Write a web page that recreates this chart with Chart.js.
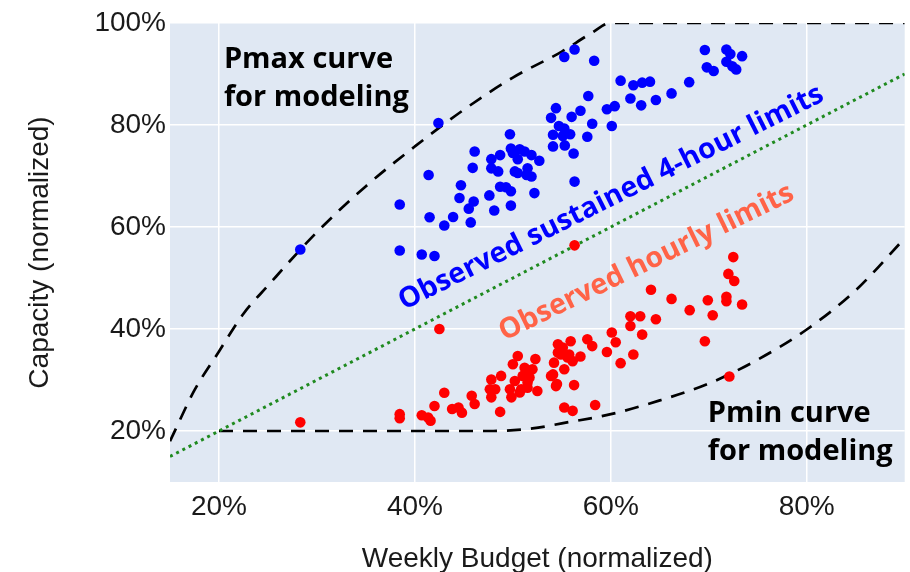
<!DOCTYPE html>
<html>
<head>
<meta charset="utf-8">
<script src="https://cdn.jsdelivr.net/npm/chart.js@4.4.1/dist/chart.umd.min.js"></script>
<style>
  html, body { margin: 0; padding: 0; background: #fff; }
  #grafico { display: block; }
</style>
</head>
<body>
<canvas id="grafico" width="910" height="572"></canvas>
<script>
// eixos (valores em %)
const xTicks = [20, 40, 60, 80];
const yTicks = [20, 40, 60, 80, 100];

// limites sustentados de 4 horas (azul)
const sustainedBudget = [28.3, 42.4, 41.4, 38.45, 38.45, 40.7, 42.0, 41.5, 43.0, 43.9, 44.7, 44.55, 45.5, 46.0, 45.7, 45.9, 46.1,
  47.6, 48.1, 47.8, 47.8, 48.7, 48.5, 48.7, 49.3, 49.8, 49.8, 49.7, 49.8, 50.0, 50.2, 50.5, 50.7, 50.5, 51.4, 51.2, 51.5, 51.9,
  52.2, 52.7, 51.9, 53.9, 54.4, 54.7, 55.25, 54.1, 55.85, 55.1, 54.1, 55.3, 56.2, 56.3, 56.0, 56.9, 57.7, 58.1, 57.6, 55.25,
  56.3, 58.3, 59.6, 60.4, 60.1, 61.0, 62.3, 63.2, 64.0, 62.0, 63.1, 64.6, 66.2, 68.0, 69.6, 71.8, 72.2, 73.4, 71.8, 72.4, 72.8,
  69.8, 70.5];
const sustainedCapacity = [55.6, 80.4, 70.2, 64.4, 55.4, 54.6, 54.3, 61.9, 60.3, 61.95, 68.2, 65.7, 63.6, 65.0, 60.9, 71.6, 74.8,
  66.2, 63.25, 73.3, 71.5, 74.1, 70.9, 67.9, 67.8, 67.0, 64.2, 78.2, 75.4, 74.5, 70.9, 73.3, 75.25, 70.6, 70.2, 74.8, 71.5, 74.1,
  66.65, 73.0, 69.9, 81.4, 83.3, 79.8, 79.3, 78.1, 78.2, 77.85, 75.8, 76.0, 74.4, 68.9, 81.6, 82.8, 85.7, 80.25, 77.7, 93.35,
  94.8, 92.6, 83.1, 83.7, 79.8, 88.7, 87.8, 88.3, 88.5, 85.2, 83.85, 84.9, 86.2, 88.4, 94.7, 94.8, 93.9, 93.5, 92.4, 91.5, 90.9,
  91.3, 90.6];

// limites horários (vermelho)
const hourlyBudget = [28.3, 38.45, 38.45, 40.7, 41.35, 41.6, 42.0, 43.0, 42.5, 44.45, 43.8, 44.8, 45.8, 46.1, 47.8, 47.65, 48.2,
  48.7, 47.8, 48.8, 49.7, 49.85, 50.0, 50.5, 50.2, 50.7, 51.0, 51.2, 51.7, 51.5, 52.3, 52.5, 52.0, 53.9, 54.4, 54.2, 54.6, 55.1,
  55.25, 54.9, 55.9, 55.6, 56.9, 56.25, 55.25, 56.1, 57.6, 58.1, 58.4, 59.6, 60.1, 60.5, 61.0, 62.0, 63.0, 62.0, 63.2, 62.3,
  64.1, 64.6, 66.2, 68.05, 69.6, 69.9, 70.4, 71.8, 71.8, 73.4, 72.6, 72.1, 72.5, 72.0, 56.3, 51.5, 51.7, 50.85, 54.1, 54.6,
  55.75, 56.1, 54.5];
const hourlyCapacity = [21.7, 23.3, 22.5, 23.1, 22.65, 22.0, 24.9, 27.5, 40.0, 24.6, 24.3, 23.6, 26.9, 25.3, 30.1, 28.2, 28.2,
  23.75, 26.6, 30.8, 28.2, 26.6, 33.1, 34.7, 29.8, 27.55, 30.8, 32.4, 30.5, 28.5, 34.1, 27.85, 32.1, 30.8, 28.8, 33.4, 37.0, 36.35,
  32.1, 35.0, 37.6, 34.4, 34.6, 29.0, 24.6, 23.95, 38.0, 36.65, 25.1, 35.5, 39.3, 37.4, 33.3, 42.5, 42.5, 40.6, 38.9, 35.0,
  47.7, 41.9, 45.9, 43.7, 37.6, 45.65, 42.7, 46.3, 45.45, 44.8, 49.4, 30.7, 54.1, 50.8, 56.4, 29.5, 31.8, 28.2, 31.1, 35.4,
  35.0, 33.7, 29.2];

// curvas de modelagem (tracejadas)
const pmaxBudget = [15, 17.5, 20, 22.5, 25, 30, 35, 40, 45, 50, 55, 58, 60, 70, 80, 90];
const pmaxCapacity = [18, 28, 35.6, 43, 48.5, 59, 68, 75.8, 83, 89.3, 94.4, 98, 100, 100, 100, 100];
const pminBudget = [20, 30, 40, 48, 52, 55, 60, 65, 70, 75, 80, 85, 90];
const pminCapacity = [20, 20, 20, 20, 20.5, 21.5, 23.3, 26, 29.3, 34, 39.9, 47.6, 57.8];

// linha de referência y = x (pontilhada)
const refBudget = [15, 90];
const refCapacity = [15, 90];

function juntar(xs, ys) {
  return xs.map((x, i) => ({ x: x, y: ys[i] }));
}

const notas = [
  { linhas: ['Pmax curve', 'for modeling'], x: 20.5, y: 91.1, angulo: 0, cor: '#000', fonte: 'bold 29px "Open Sans"', align: 'left', entrelinha: 38 },
  { linhas: ['Pmin curve', 'for modeling'], x: 69.9, y: 21.8, angulo: 0, cor: '#000', fonte: 'bold 29px "Open Sans"', align: 'left', entrelinha: 38 },
  { linhas: ['Observed sustained 4-hour limits'], x: 60.4, y: 64.3, angulo: -26.5, cor: '#0000ff', fonte: 'bold 28.5px "Open Sans"', align: 'center', entrelinha: 0 },
  { linhas: ['Observed hourly limits'], x: 64.0, y: 51.6, angulo: -26, cor: '#ff6347', fonte: 'bold 28.5px "Open Sans"', align: 'center', entrelinha: 0 }
];

const fundoPlugin = {
  id: 'fundo',
  beforeDraw(chart) {
    const { ctx, chartArea } = chart;
    ctx.save();
    ctx.fillStyle = '#e0e8f3';
    ctx.fillRect(chartArea.left, chartArea.top, chartArea.right - chartArea.left, chartArea.bottom - chartArea.top);
    ctx.restore();
  }
};

const textosPlugin = {
  id: 'textos',
  afterDatasetsDraw(chart) {
    const { ctx, scales } = chart;
    notas.forEach(n => {
      ctx.save();
      ctx.translate(scales.x.getPixelForValue(n.x), scales.y.getPixelForValue(n.y));
      ctx.rotate(n.angulo * Math.PI / 180);
      ctx.font = n.fonte;
      ctx.fillStyle = n.cor;
      ctx.textAlign = n.align;
      ctx.textBaseline = 'alphabetic';
      n.linhas.forEach((linha, i) => ctx.fillText(linha, 0, i * n.entrelinha));
      ctx.restore();
    });
  }
};

const fonteEixo = { family: '"Liberation Sans", Arial, sans-serif', size: 28 };

function criarGrafico() {
  const ctx = document.getElementById('grafico').getContext('2d');
  new Chart(ctx, {
    type: 'scatter',
    data: {
      datasets: [
        {
          label: 'Observed sustained 4-hour limits',
          data: juntar(sustainedBudget, sustainedCapacity),
          backgroundColor: '#0000ff',
          borderWidth: 0,
          pointRadius: 5.3
        },
        {
          label: 'Observed hourly limits',
          data: juntar(hourlyBudget, hourlyCapacity),
          backgroundColor: '#ff0000',
          borderWidth: 0,
          pointRadius: 5.3
        },
        {
          type: 'line',
          label: 'Reference',
          data: juntar(refBudget, refCapacity),
          borderColor: '#1f8a1f',
          borderWidth: 3,
          borderDash: [3, 4],
          pointRadius: 0,
          fill: false
        },
        {
          type: 'line',
          label: 'Pmax',
          data: juntar(pmaxBudget, pmaxCapacity),
          borderColor: '#000',
          borderWidth: 2.7,
          borderDash: [14, 10],
          pointRadius: 0,
          cubicInterpolationMode: 'monotone',
          fill: false
        },
        {
          type: 'line',
          label: 'Pmin',
          data: juntar(pminBudget, pminCapacity),
          borderColor: '#000',
          borderWidth: 2.7,
          borderDash: [14, 10],
          pointRadius: 0,
          cubicInterpolationMode: 'monotone',
          fill: false
        }
      ]
    },
    options: {
      responsive: false,
      animation: false,
      devicePixelRatio: 1,
      layout: { padding: { left: 0, top: 23, right: 3, bottom: 0 } },
      plugins: {
        legend: { display: false },
        tooltip: { enabled: false }
      },
      scales: {
        x: {
          type: 'linear',
          min: 15,
          max: 90,
          afterBuildTicks: axis => { axis.ticks = xTicks.map(v => ({ value: v })); },
          afterFit: axis => { axis.height = 90; },
          border: { display: false },
          grid: { color: '#ffffff', lineWidth: 1.5, drawTicks: false },
          ticks: {
            color: '#1a1a1a',
            font: fonteEixo,
            padding: 8,
            maxRotation: 0,
            callback: v => v + '%'
          },
          title: {
            display: true,
            text: 'Weekly Budget (normalized)',
            color: '#1a1a1a',
            font: fonteEixo,
            padding: { top: -4, bottom: -4 }
          }
        },
        y: {
          type: 'linear',
          min: 10,
          max: 100,
          afterBuildTicks: axis => { axis.ticks = yTicks.map(v => ({ value: v })); },
          afterFit: axis => { axis.width = 170; },
          border: { display: false },
          grid: { color: '#ffffff', lineWidth: 1.5, drawTicks: false },
          ticks: {
            color: '#1a1a1a',
            font: fonteEixo,
            padding: 4,
            callback: v => v + '%'
          },
          title: {
            display: true,
            text: 'Capacity (normalized)',
            color: '#1a1a1a',
            font: fonteEixo,
            padding: { top: 23, bottom: 23 }
          }
        }
      }
    },
    plugins: [fundoPlugin, textosPlugin]
  });
}

criarGrafico();
</script>
</body>
</html>
